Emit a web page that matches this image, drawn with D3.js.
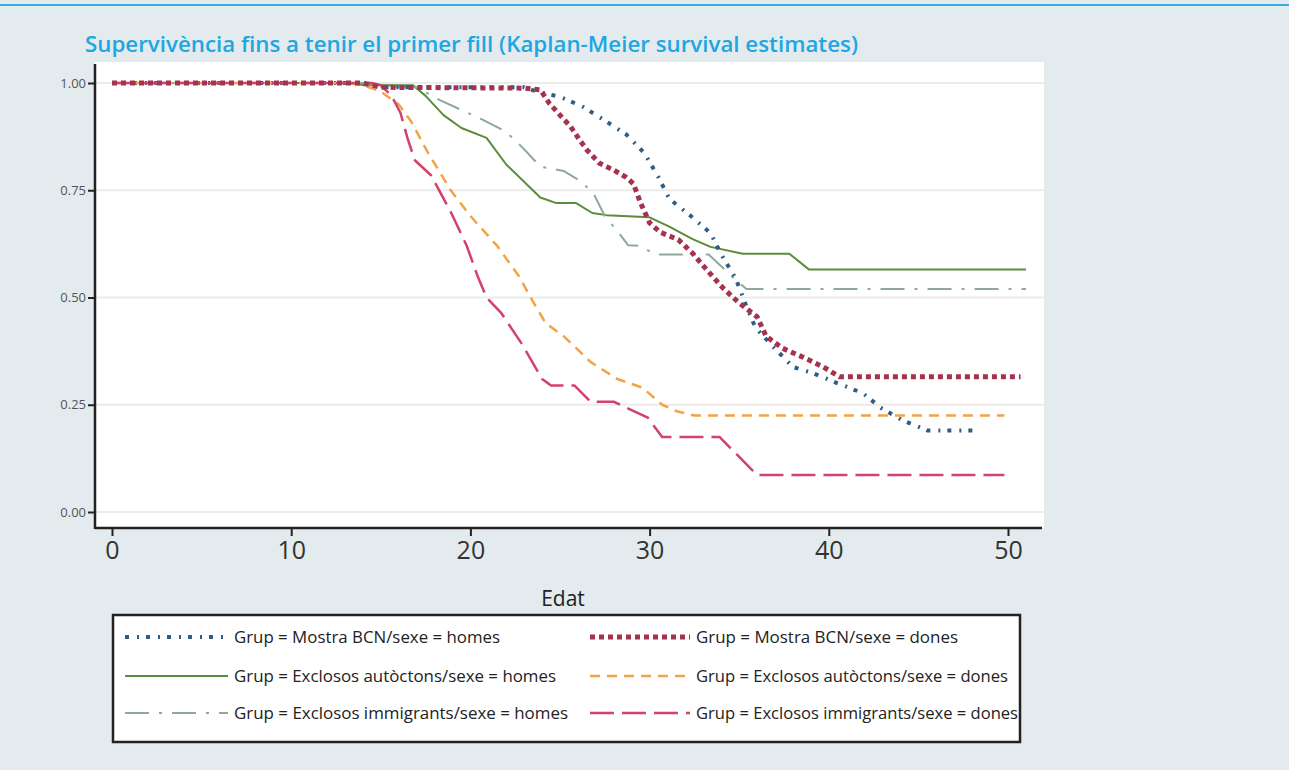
<!DOCTYPE html>
<html><head><meta charset="utf-8">
<script src="https://cdn.jsdelivr.net/npm/d3@7"></script>
<style>body{margin:0;background:#e3ebee;} svg{display:block;}</style>
</head><body><svg id="c" width="1289" height="770"></svg>
<script>
const title = "Supervivència fins a tenir el primer fill (Kaplan-Meier survival estimates)";
const xTicks = [0, 10, 20, 30, 40, 50];
const yTicks = [0, 0.25, 0.5, 0.75, 1];
const xLabel = "Edat";

const bcnHomes = [[0,1],[14,1],[15,0.99],[23,0.99],[23.7,0.98],[25,0.968],[26.3,0.944],[27.6,0.91],[28.7,0.88],[29.7,0.837],[30.5,0.78],[31.1,0.73],[32.3,0.69],[33.4,0.65],[34,0.6],[34.8,0.545],[35.3,0.49],[35.9,0.43],[36.9,0.385],[38,0.338],[39.1,0.324],[40.5,0.3],[41.9,0.277],[42.9,0.243],[44.1,0.214],[45.5,0.19],[48.4,0.19]];
const bcnDones = [[0,1],[14,1],[15,0.99],[23,0.988],[23.9,0.984],[24.4,0.953],[25,0.925],[25.6,0.898],[26.1,0.867],[26.5,0.844],[27.2,0.813],[28,0.797],[28.7,0.78],[29.1,0.765],[29.5,0.72],[30,0.674],[30.6,0.652],[31.6,0.635],[32.4,0.603],[33.2,0.564],[34.1,0.522],[35,0.487],[36,0.455],[36.5,0.41],[37.4,0.382],[38.6,0.36],[39.7,0.338],[40.6,0.315],[50.7,0.315]];
const autHomes = [[0,1],[13.5,1],[14,0.995],[16.8,0.995],[17.5,0.97],[18.5,0.925],[19.5,0.895],[20.9,0.872],[22,0.81],[23.9,0.733],[24.8,0.72],[25.9,0.72],[26.8,0.697],[27.6,0.692],[30,0.687],[31.1,0.665],[32.4,0.636],[33.4,0.618],[35.2,0.602],[37.8,0.602],[38.9,0.565],[51,0.565]];
const autDones = [[0,1],[13,1],[14,0.995],[15,0.98],[16,0.95],[16.7,0.91],[17.6,0.84],[18.9,0.75],[20,0.69],[21.5,0.62],[22.7,0.55],[23.5,0.49],[24.2,0.44],[25.2,0.41],[26.7,0.35],[28.2,0.31],[29.6,0.29],[30.7,0.25],[31.5,0.235],[32.5,0.225],[49.8,0.225]];
const immHomes = [[0,1],[14,1],[15,0.99],[17,0.99],[18.3,0.96],[20.7,0.914],[22,0.886],[22.9,0.85],[23.9,0.805],[25.2,0.795],[26.2,0.77],[26.9,0.74],[27.5,0.69],[28.2,0.655],[28.8,0.622],[29.5,0.62],[30.3,0.6],[33.3,0.6],[34.7,0.545],[35.4,0.52],[51,0.52]];
const immDones = [[0,1],[14.5,1],[15,0.995],[15.6,0.97],[16.1,0.93],[16.5,0.87],[16.9,0.82],[17.8,0.785],[18.9,0.7],[19.8,0.62],[20.4,0.55],[20.9,0.5],[21.7,0.465],[22.9,0.39],[24,0.31],[24.5,0.295],[25.8,0.295],[26.7,0.257],[28,0.257],[29.9,0.22],[30.7,0.175],[33.9,0.175],[36,0.086],[49.8,0.086]];

const seriesNames = ["Grup = Mostra BCN/sexe = homes","Grup = Mostra BCN/sexe = dones","Grup = Exclosos autòctons/sexe = homes","Grup = Exclosos autòctons/sexe = dones","Grup = Exclosos immigrants/sexe = homes","Grup = Exclosos immigrants/sexe = dones"];
const seriesData = [bcnHomes, bcnDones, autHomes, autDones, immHomes, immDones];
const styles = [
  {color:"#2e5d86", width:4, dash:"4 8 2 7"},
  {color:"#a3334f", width:5, dash:"5 4"},
  {color:"#5b8c3a", width:2, dash:null},
  {color:"#f2a443", width:2.5, dash:"10 7"},
  {color:"#8ea89b", width:2, dash:"24 10 3 10"},
  {color:"#d4416a", width:2.5, dash:"24 8"}
];

const svg = d3.select("#c");
svg.append("rect").attr("x",0).attr("y",0).attr("width",1289).attr("height",770).attr("fill","#e3ebee");
svg.append("line").attr("x1",0).attr("x2",1289).attr("y1",5).attr("y2",5).attr("stroke","#35aee4").attr("stroke-width",2);

svg.append("text").attr("x",85).attr("y",52).text(title)
  .attr("font-family","Open Sans, sans-serif").attr("font-weight",600).attr("font-size",22)
  .attr("fill","#20a6e2").attr("textLength",773).attr("lengthAdjust","spacingAndGlyphs");

const x = d3.scaleLinear().domain([0,50]).range([112,1008]);
const y = d3.scaleLinear().domain([0,1]).range([512,83]);
const pL = 95, pR = 1044, pT = 62, pB = 528;

svg.append("rect").attr("x",pL).attr("y",pT).attr("width",pR-pL).attr("height",pB-pT).attr("fill","#ffffff");

svg.append("g").selectAll("line").data(yTicks).join("line")
  .attr("x1",pL).attr("x2",pR).attr("y1",d=>y(d)).attr("y2",d=>y(d))
  .attr("stroke","#ebebeb").attr("stroke-width",2);

const yAxis = svg.append("g").attr("transform",`translate(${pL},0)`)
  .call(d3.axisLeft(y).tickValues(yTicks).tickFormat(d3.format(".2f")).tickSize(7).tickSizeOuter(0));
yAxis.select(".domain").remove();
yAxis.selectAll(".tick line").attr("stroke","#222").attr("stroke-width",2);
yAxis.selectAll(".tick text").attr("font-family","Open Sans, sans-serif").attr("font-size",13).attr("fill","#555").attr("x",-9);

const xAxis = svg.append("g").attr("transform",`translate(0,${pB})`)
  .call(d3.axisBottom(x).tickValues(xTicks).tickSize(8).tickSizeOuter(0));
xAxis.select(".domain").remove();
xAxis.selectAll(".tick line").attr("stroke","#222").attr("stroke-width",2);
xAxis.selectAll(".tick text").attr("font-family","Open Sans, sans-serif").attr("font-size",25).attr("fill","#333").attr("y",13);

svg.append("line").attr("x1",pL).attr("x2",pL).attr("y1",pT+2).attr("y2",pB+1).attr("stroke","#222").attr("stroke-width",2.5);
svg.append("line").attr("x1",pL).attr("x2",pR-2).attr("y1",pB).attr("y2",pB).attr("stroke","#222").attr("stroke-width",2.5);

svg.append("text").attr("x",563).attr("y",606).attr("text-anchor","middle").text(xLabel)
  .attr("font-family","Open Sans, sans-serif").attr("font-size",21).attr("fill","#222");

const line = d3.line().x(d=>x(d[0])).y(d=>y(d[1]));
const drawOrder = [2,4,0,3,5,1];
drawOrder.forEach(i=>{
  svg.append("path").datum(seriesData[i]).attr("d",line).attr("fill","none")
    .attr("stroke",styles[i].color).attr("stroke-width",styles[i].width)
    .attr("stroke-dasharray",styles[i].dash).attr("stroke-linejoin","round");
});

const lg = svg.append("g");
lg.append("rect").attr("x",113).attr("y",615).attr("width",907).attr("height",127)
  .attr("fill","#fff").attr("stroke","#222").attr("stroke-width",2.5);
const rowsY = [637, 676, 713];
const widths = [266, 262, 322, 312, 334, 322];
seriesNames.forEach((name,i)=>{
  const col = i%2, row = Math.floor(i/2);
  const sx = col===0 ? 125 : 590;
  const ex = col===0 ? 228 : 690;
  const yy = rowsY[row];
  lg.append("line").attr("x1",sx).attr("x2",ex).attr("y1",yy).attr("y2",yy)
    .attr("stroke",styles[i].color).attr("stroke-width",styles[i].width)
    .attr("stroke-dasharray",styles[i].dash);
  lg.append("text").attr("x",col===0?234:696).attr("y",yy+6).text(name)
    .attr("font-family","Open Sans, sans-serif").attr("font-size",16.5).attr("fill","#222")
    .attr("textLength",widths[i]).attr("lengthAdjust","spacingAndGlyphs");
});
</script></body></html>
